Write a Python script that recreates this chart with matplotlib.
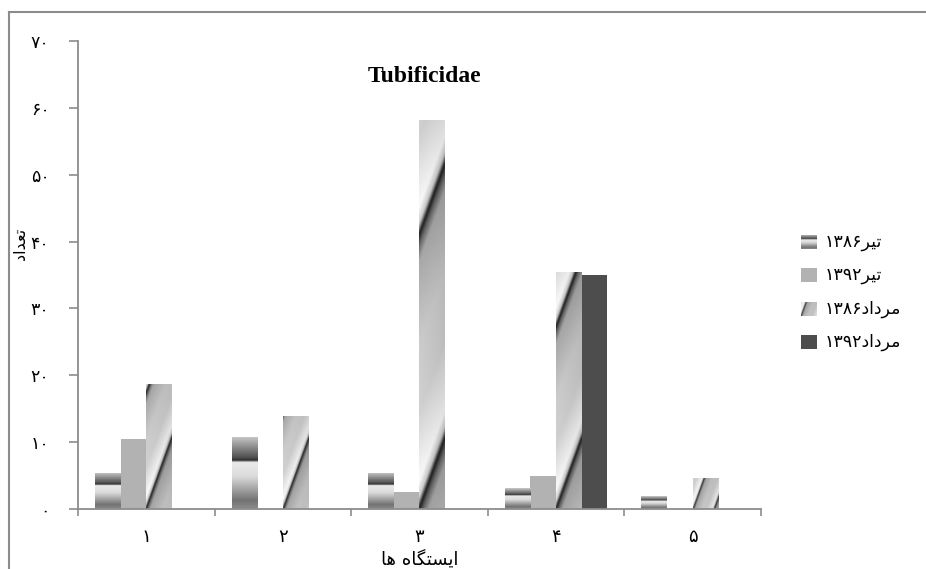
import numpy as np
import matplotlib.pyplot as plt
from matplotlib.lines import Line2D
from matplotlib.colors import ListedColormap

# Persian text is stored already shaped (presentation forms, visual order),
# since matplotlib does no Arabic shaping or bidi on its own.
stations = ['۱', '۲', '۳', '۴', '۵']
tir_1386 = [5.4, 10.8, 5.4, 3.1, 1.9]
tir_1392 = [10.5, 0, 2.5, 4.9, 0]
mordad_1386 = [18.7, 13.9, 58.2, 35.4, 4.6]
mordad_1392 = [0, 0, 0, 35.0, 0]

series_labels = ['۱۳۸۶\ufeae\ufef4\ufe97',                        # تیر۱۳۸۶
                 '۱۳۹۲\ufeae\ufef4\ufe97',                        # تیر۱۳۹۲
                 '۱۳۸۶\ufea9\ufe8d\ufea9\ufeae\ufee3',            # مرداد۱۳۸۶
                 '۱۳۹۲\ufea9\ufe8d\ufea9\ufeae\ufee3']            # مرداد۱۳۹۲
yticks = [0, 10, 20, 30, 40, 50, 60, 70]
ytick_labels = ['۰', '۱۰', '۲۰', '۳۰', '۴۰', '۵۰', '۶۰', '۷۰']
title = 'Tubificidae'
xlabel = '\ufe8e\ufeeb \ufee9\ufe8e\ufb95\ufe98\ufeb4\ufef3\ufe8d'     # ایستگاه ها
ylabel = '\ufea9\ufe8d\ufeaa\ufecc\ufe97'                            # تعداد

W, H = 926, 569
fig = plt.figure(figsize=(W / 100, H / 100), dpi=100)
fig.patch.set_facecolor('white')

# outer chart border (left and top visible)
fig.add_artist(Line2D([8.5 / W, 8.5 / W], [0, 1 - 12 / H], color='#8c8c8c', lw=1.5))
fig.add_artist(Line2D([8.5 / W, 1], [1 - 12 / H, 1 - 12 / H], color='#8c8c8c', lw=1.5))

ax = fig.add_axes([78 / W, (H - 509) / H, 683 / W, 468 / H])
ax.set_xlim(0.5, 5.5)
ax.set_ylim(0, 70)


def shade(wpx, hpx, kind):
    nx = max(int(wpx * 2), 4)
    ny = max(int(hpx * 2), 4)
    u = (np.arange(nx) + 0.5) / nx
    v = (np.arange(ny) + 0.5) / ny
    U, V = np.meshgrid(u, v)
    if kind == 'bands':
        t = 1 - V
        img = np.interp(t, [0, 0.30, 0.33, 0.36, 0.55, 0.88, 1.0],
                        [0.80, 0.30, 0.18, 0.92, 0.86, 0.45, 0.55])
    else:
        X = U * wpx
        Y = V * hpx
        P = 40 + 0.6 * hpx
        ph = ((Y - 2.8 * X) / P) % 1.0
        img = np.interp(ph, [0, 0.04, 0.10, 0.35, 0.6, 0.90, 0.96, 1.0],
                        [0.12, 0.80, 0.98, 0.82, 0.80, 0.66, 0.40, 0.12])
        img = img * (1 - 0.10 * U)
    return img


def shaded_bars(bars, kind):
    for p in bars:
        x0, y0 = p.get_x(), p.get_y()
        w, h = p.get_width(), p.get_height()
        if h <= 0:
            continue
        a = ax.transData.transform((x0, y0))
        b = ax.transData.transform((x0 + w, y0 + h))
        img = shade(b[0] - a[0], b[1] - a[1], kind)
        im = ax.imshow(img, cmap='gray', vmin=0, vmax=1, origin='lower',
                       extent=(x0, x0 + w, y0, y0 + h), aspect='auto',
                       interpolation='bilinear', zorder=2)
        im.set_clip_path(p)


x = np.arange(1, 6)
bw = 0.1875
b1 = ax.bar(x - 1.5 * bw, tir_1386, bw, color='none', zorder=2)
b2 = ax.bar(x - 0.5 * bw, tir_1392, bw, color='#b2b2b2', zorder=2)
b3 = ax.bar(x + 0.5 * bw, mordad_1386, bw, color='none', zorder=2)
b4 = ax.bar(x + 1.5 * bw, mordad_1392, bw, color='#4d4d4d', zorder=2)
shaded_bars(b1, 'bands')
shaded_bars(b3, 'diag')
ax.set_xlim(0.5, 5.5)
ax.set_ylim(0, 70)

for s in ['top', 'right']:
    ax.spines[s].set_visible(False)
for s in ['left', 'bottom']:
    ax.spines[s].set_color('#8c8c8c')
    ax.spines[s].set_linewidth(1.3)
    ax.spines[s].set_zorder(3)

ax.set_yticks(yticks)
ax.set_yticklabels(ytick_labels, fontsize=12.5, family='DejaVu Sans')
ax.tick_params(axis='y', length=6.5, width=1.2, color='#8c8c8c', pad=14)

ax.set_xticks(np.arange(0.5, 6, 1))
ax.set_xticklabels([])
ax.tick_params(axis='x', which='major', length=5, width=1.2, color='#8c8c8c')
ax.set_xticks(x, minor=True)
ax.set_xticklabels(stations, minor=True, fontsize=13, family='DejaVu Sans')
ax.tick_params(axis='x', which='minor', length=0, pad=14)

fig.text(425 / W, 1 - 77 / H, title, ha='center', va='center',
         family='Liberation Serif', fontweight='bold', fontsize=17)
fig.text(420 / W, 1 - 559 / H, xlabel, ha='center', va='center', fontsize=13)
fig.text(20 / W, 1 - 244 / H, ylabel, ha='center', va='center', rotation=90, fontsize=11.5)

# legend
leg_y = [242, 275, 309, 342]
kinds = ['bands', None, 'diag', None]
colors = [None, '#b2b2b2', None, '#4d4d4d']
for yy, kind, col, lab in zip(leg_y, kinds, colors, series_labels):
    mx = fig.add_axes([801 / W, (H - yy - 7) / H, 16 / W, 14 / H])
    mx.set_axis_off()
    if kind is None:
        mx.imshow([[0]], cmap=ListedColormap([col]), aspect='auto', extent=(0, 1, 0, 1))
    else:
        mx.imshow(shade(16, 14, kind), cmap='gray', vmin=0, vmax=1, origin='lower',
                  aspect='auto', extent=(0, 1, 0, 1), interpolation='bilinear')
    fig.text(825 / W, 1 - yy / H, lab, ha='left', va='center', fontsize=12.5)

fig.savefig('out.png', dpi=100)
